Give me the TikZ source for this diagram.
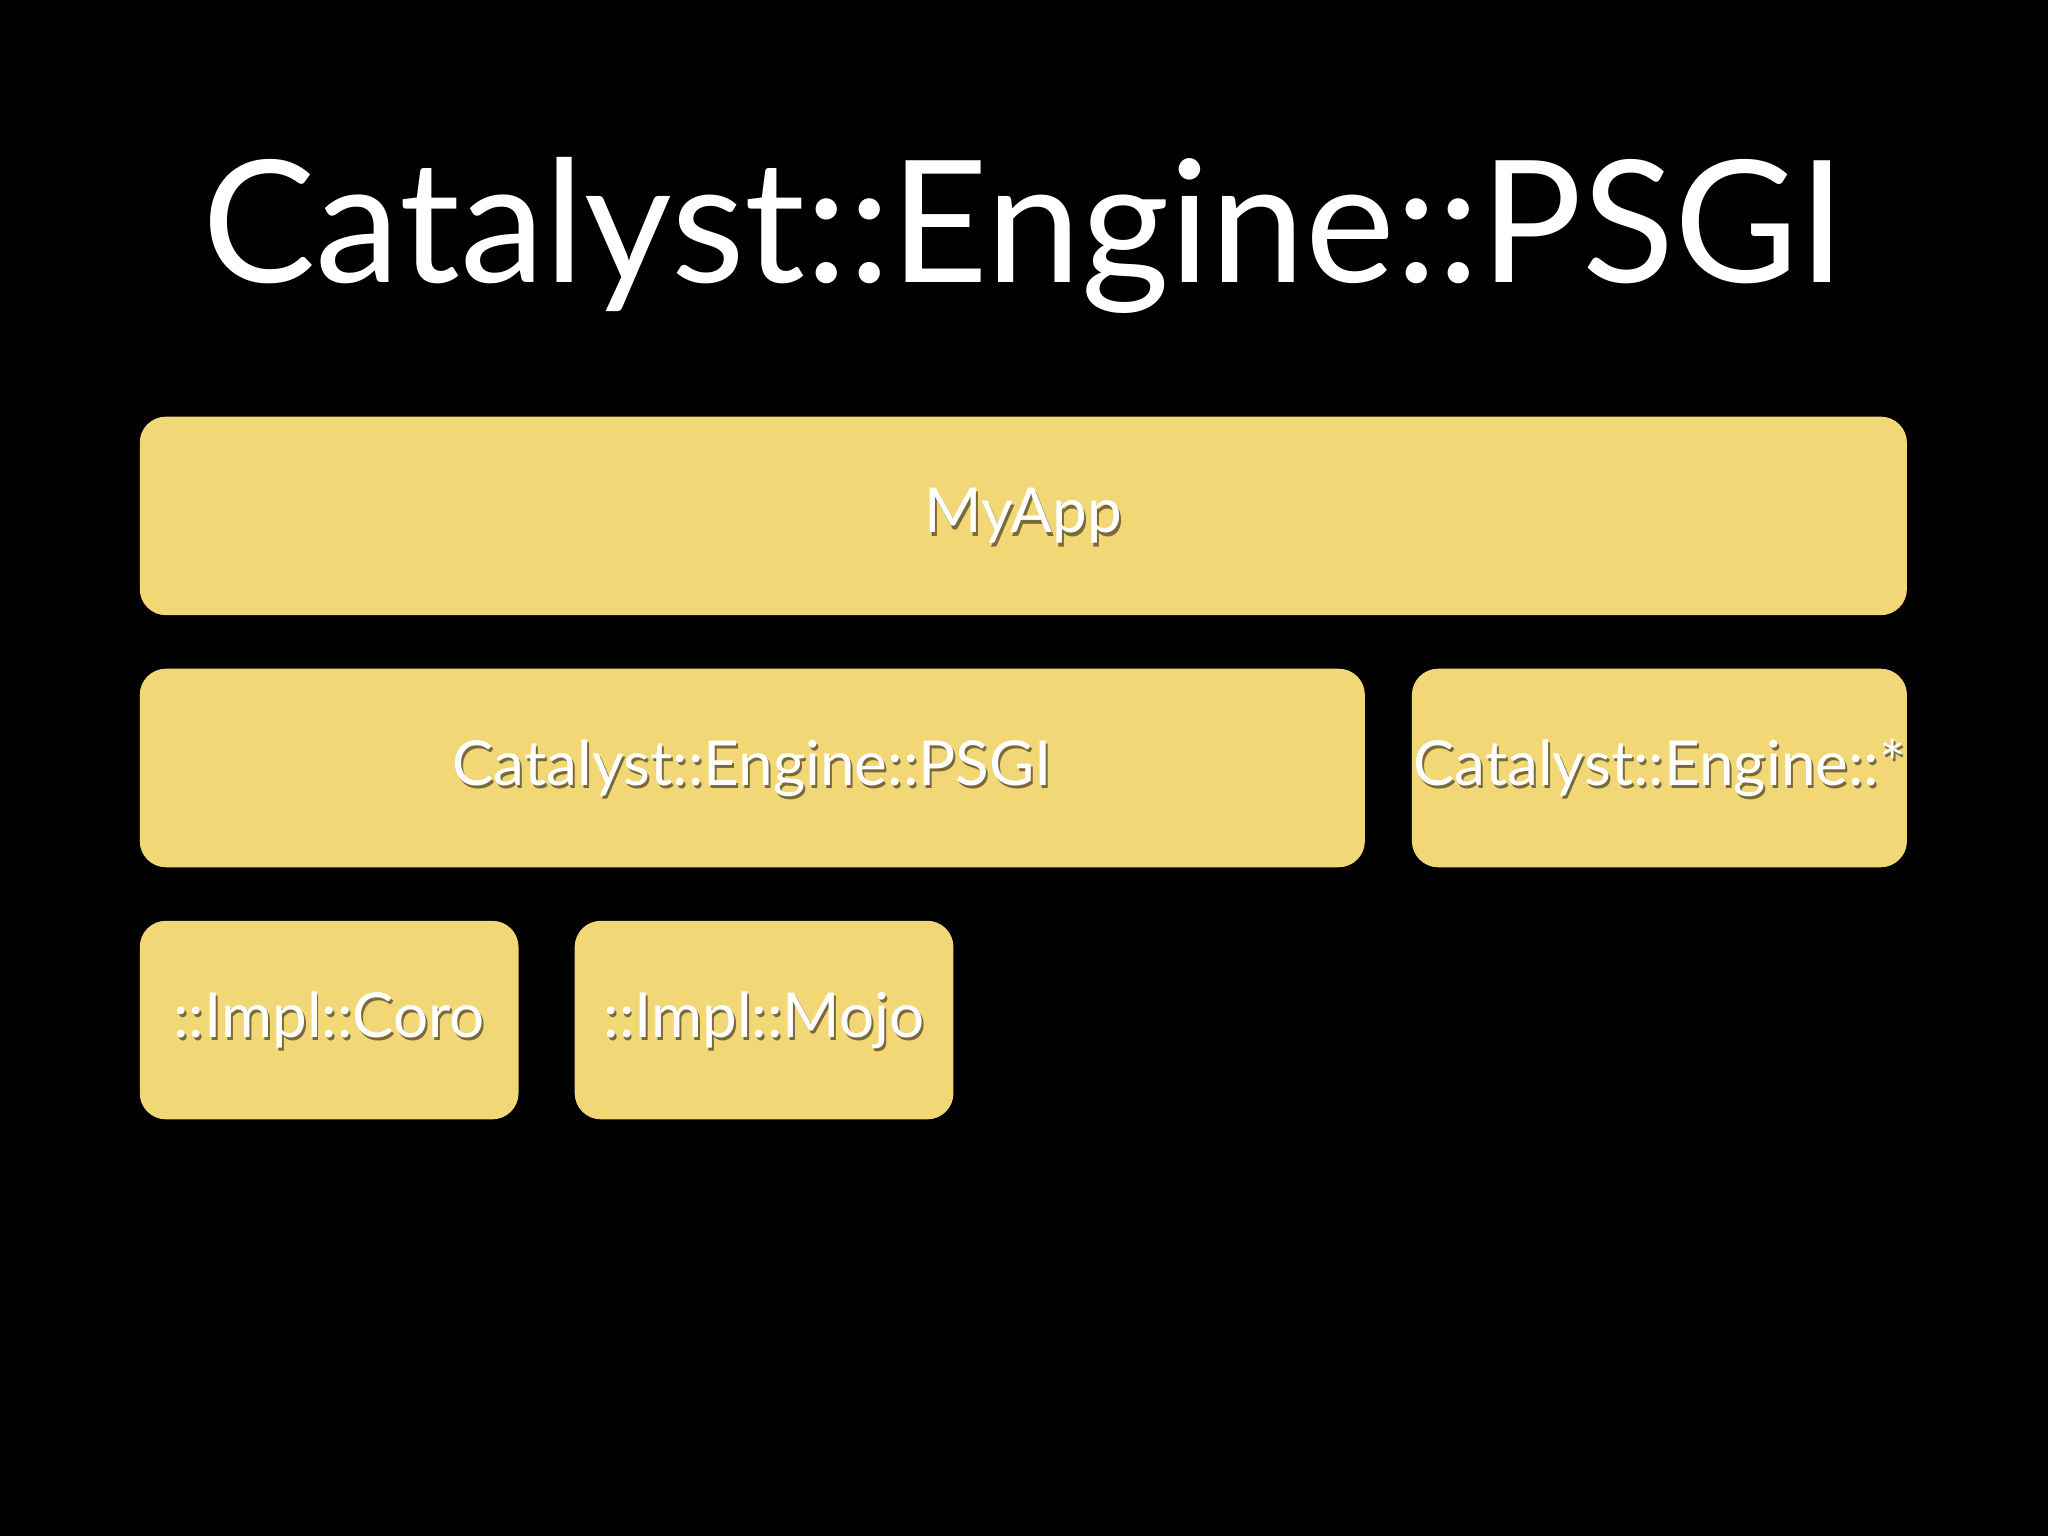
\documentclass[tikz,border=0pt]{standalone}
\usepackage{fontspec}
\setmainfont{Lato}
\definecolor{boxy}{HTML}{F2D777}
\definecolor{shad}{HTML}{7A6A3A}
\begin{document}
\begin{tikzpicture}[x=0.01cm,y=-0.01cm,
  blk/.style={fill=boxy,rounded corners=0.2cm,draw=none},
  lbl/.style={text=white,font=\fontsize{13.5}{16}\selectfont}]
\fill[black] (0,0) rectangle (1568,1176);
\node[text=white,font=\fontsize{37}{44}\selectfont] (title) at (784,180) {Catalyst::Engine::PSGI};
\newcommand\mybox[6]{%
  \fill[blk] (#1,#2) rectangle (#3,#4);
  \node[lbl,text=shad] at ({(#1+#3)/2+1.5},{(#2+#4)/2+2.5}) {#6};
  \node[lbl] (#5) at ({(#1+#3)/2},{(#2+#4)/2}) {#6};}
\mybox{107}{319}{1460}{471}{myapp}{MyApp}
\mybox{107}{512}{1045}{664}{psgi}{Catalyst::Engine::PSGI}
\mybox{1081}{512}{1460}{664}{other}{Catalyst::Engine::*}
\mybox{107}{705}{397}{857}{coro}{::Impl::Coro}
\mybox{440}{705}{730}{857}{mojo}{::Impl::Mojo}
\end{tikzpicture}
\end{document}
